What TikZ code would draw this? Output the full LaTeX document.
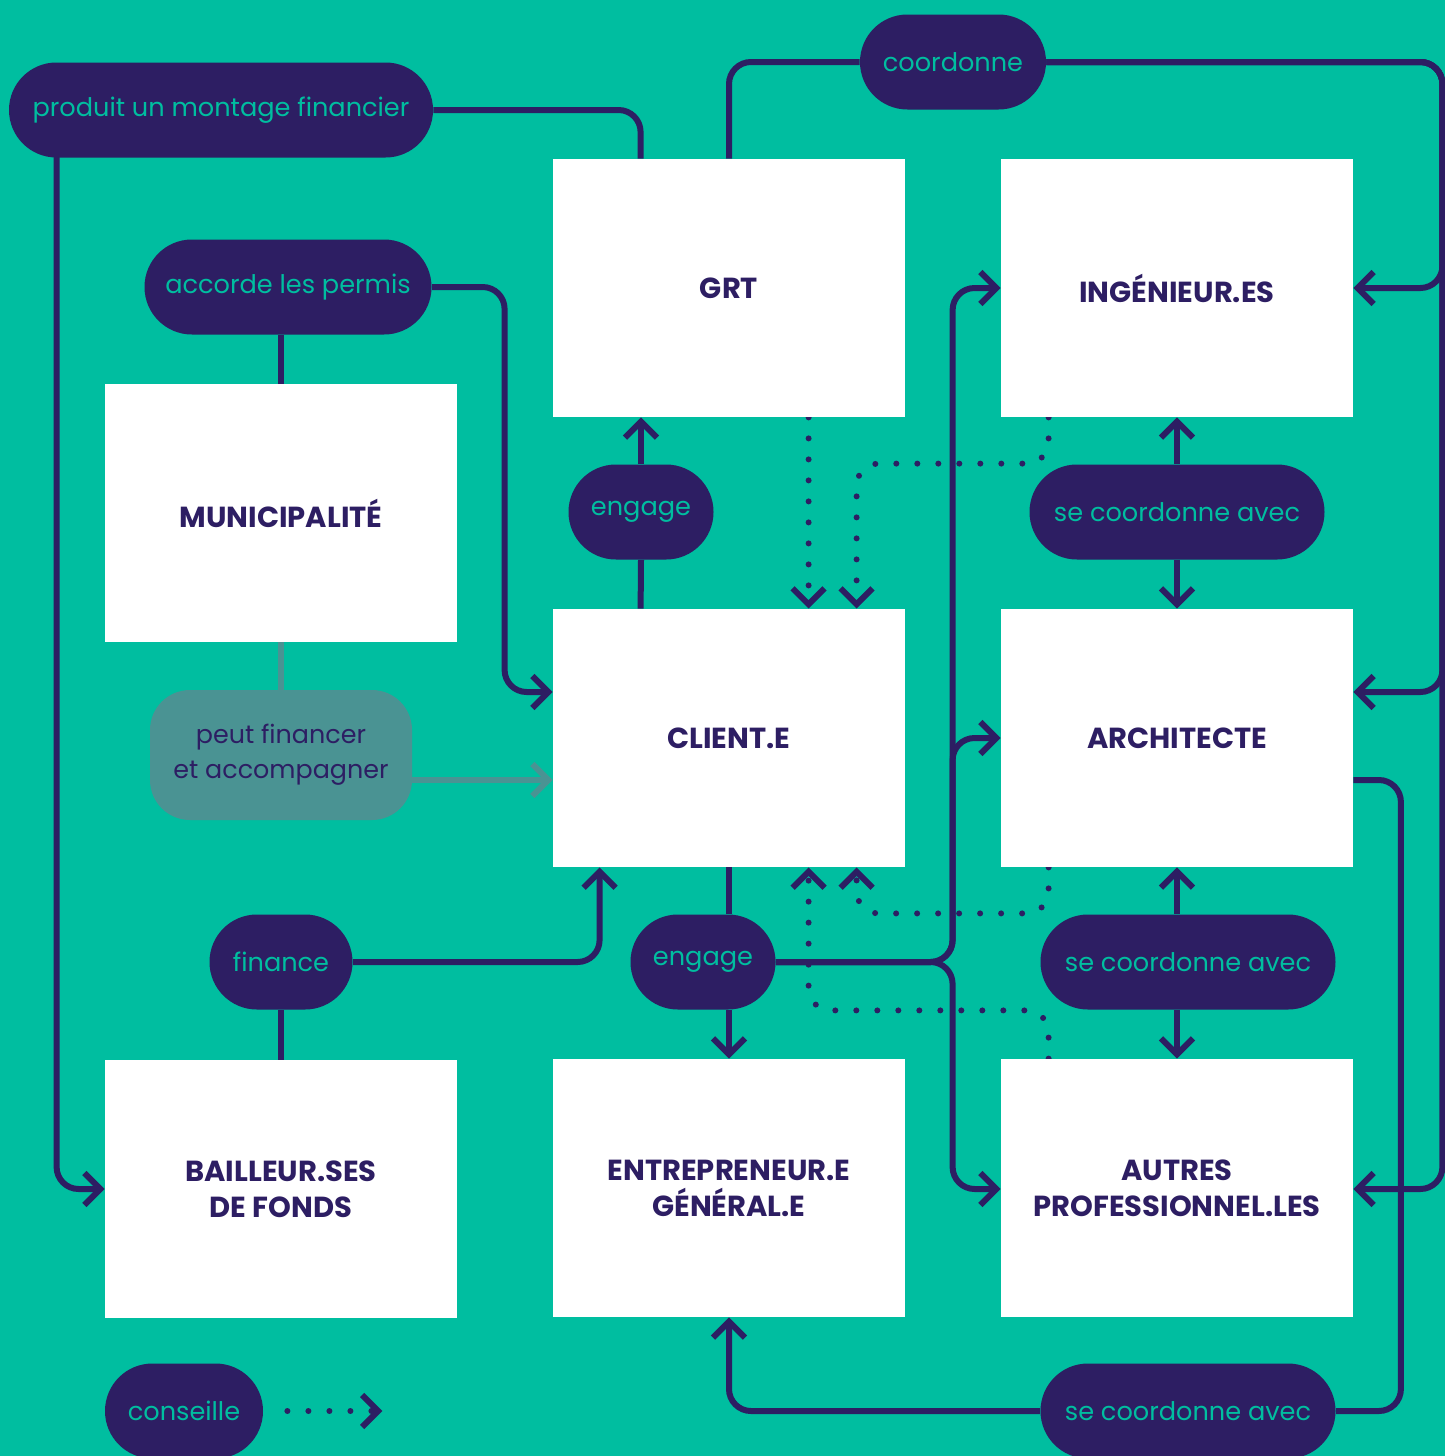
\documentclass[tikz,border=0pt]{standalone}
\usepackage{fontspec}
\setmainfont{Poppins}
\usetikzlibrary{arrows.meta,calc}
\definecolor{bgc}{HTML}{00BEA0}
\definecolor{purp}{HTML}{2D1E63}
\definecolor{grayc}{HTML}{4A9393}
\pgfdeclarelayer{back}
\pgfdeclarelayer{lines}
\pgfsetlayers{back,lines,main}
\tikzset{
  box/.style={fill=white, minimum width=176pt, minimum height=129pt, inner sep=0pt,
    text=purp, align=center, text depth=0pt, font=\bfseries\fontsize{14.5}{18}\selectfont},
  pill/.style={fill=purp, rounded corners=23.7pt, minimum height=47.5pt, inner xsep=0pt,
    text=bgc, font=\fontsize{12.8}{14}\selectfont},
  gpill/.style={fill=grayc, rounded corners=20pt, minimum height=65pt, minimum width=131pt,
    inner xsep=0pt, text=purp, align=center, font=\fontsize{12.7}{17.5}\selectfont},
  conn/.style={draw=purp, line width=3pt, rounded corners=11pt},
  gconn/.style={draw=grayc, line width=3pt},
  dotln/.style={draw=purp, line width=3pt, line cap=round, dash pattern=on 0pt off 10.5pt, rounded corners=11pt},
  >={Straight Barb[length=8pt,width=16pt,line cap=butt]}
}
\begin{document}
\begin{tikzpicture}[x=0.5pt,y=-0.5pt]
\begin{pgfonlayer}{back}
\fill[bgc] (0,0) rectangle (1445,1456);
\end{pgfonlayer}
\useasboundingbox (0,0) rectangle (1445,1456);
% boxes
\node[box] (grt) at (729,288) {GRT};
\node[box] (ing) at (1177,288) {INGÉNIEUR.ES};
\node[box] (mun) at (281,513) {MUNICIPALITÉ};
\node[box] (cli) at (729,738) {CLIENT.E};
\node[box] (arc) at (1177,738) {ARCHITECTE};
\node[box] (bai) at (281,1189) {BAILLEUR.SES\\DE FONDS};
\node[box] (ent) at (729,1188) {ENTREPRENEUR.E\\GÉNÉRAL.E};
\node[box] (aut) at (1177,1188) {AUTRES\\PROFESSIONNEL.LES};
% pills
\node[pill, minimum width=212pt] (pMontage) at (221,110) {produit un montage financier};
\node[pill, minimum width=143.5pt] (pPermis) at (288,287) {accorde les permis};
\node[pill, minimum width=93pt] (pCoord) at (953,62) {coordonne};
\node[pill, minimum width=72.5pt] (pEngT) at (641,512) {engage};
\node[pill, minimum width=147.5pt] (pCoA) at (1177,512) {se coordonne avec};
\node[gpill] (pPeut) at (281,755) {peut financer\\et accompagner};
\node[pill, minimum width=71.5pt] (pFin) at (281,962) {finance};
\node[pill, minimum width=72.5pt] (pEngB) at (703,962) {engage};
\node[pill, minimum width=147.5pt] (pCoB) at (1188,962) {se coordonne avec};
\node[pill, minimum width=79pt] (pCons) at (184,1411) {conseille};
\node[pill, minimum width=147.5pt] (pCoC) at (1188,1411) {se coordonne avec};

\begin{pgfonlayer}{lines}
% produit un montage financier
\draw[conn] (pMontage.east) -| ($(grt.north west)+(88,0)$);
\draw[conn,->] ($(pMontage.south west)+(48,-2)$) |- (bai.west);
% coordonne
\draw[conn] (grt.north) |- (pCoord.west);
\draw[conn,->] (pCoord.east) -| ($(ing.east)+(89,0)$) -- (ing.east);
\draw[conn,->] (pCoord.east) -| ($(arc.east)+(89,-46)$) -- ($(arc.east)+(0,-46)$);
\draw[conn,->] (pCoord.east) -| ($(aut.east)+(89,1)$) -- ($(aut.east)+(0,1)$);
% accorde les permis
\draw[conn] (pPermis.south -| mun.north) -- (mun.north);
\draw[conn,->] (pPermis.east) -| ($(cli.west)+(-48,-46)$) -- ($(cli.west)+(0,-46)$);
% engage (top)
\draw[conn] ($(cli.north west)+(88,0)$) -- (pEngT.south);
\draw[conn,->] (pEngT.north) -- (pEngT.north |- grt.south);
% peut financer
\draw[gconn] (mun.south) -- (pPeut.north);
\draw[gconn,->] ($(pPeut.east)+(0,25)$) -- ($(cli.west)+(0,42)$);
% finance
\draw[conn] (pFin.south) -- (bai.north);
\draw[conn,->] (pFin.east) -| ($(cli.south west)+(47,0)$);
% engage (bottom)
\draw[conn] (cli.south) -- (cli.south |- pEngB.north);
\draw[conn,->] (cli.south |- pEngB.south) -- (ent.north);
\draw[conn,->] (pEngB.east) -| ($(ing.west)+(-48,0)$) -- (ing.west);
\draw[conn,->] (pEngB.east) -| ($(arc.west)+(-48,0)$) -- (arc.west);
\draw[conn,->] (pEngB.east) -| ($(aut.west)+(-48,1)$) -- ($(aut.west)+(0,1)$);
% se coordonne avec (top / middle)
\draw[conn,->] (pCoA.north) -- (pCoA.north |- ing.south);
\draw[conn,->] (pCoA.south) -- (pCoA.south |- arc.north);
\draw[conn,->] (arc.south |- pCoB.north) -- (arc.south);
\draw[conn,->] (arc.south |- pCoB.south) -- (aut.north);
% architecte -> se coordonne avec (bottom) -> entrepreneur
\draw[conn] ($(arc.east)+(0,42)$) -| ($(pCoC.east)+(65,0)$) -- (pCoC.east);
\draw[conn,->] (pCoC.west) -| (ent.south);
% conseille (dotted)
\draw[dotln,->] ($(grt.south west)+(256,0)$) -- ($(cli.north west)+(256,0)$);
\draw[dotln,->] ($(ing.south west)+(48,0)$) |- ($(cli.north west)+(304,-145)$) -- ($(cli.north west)+(304,0)$);
\draw[dotln,->] ($(arc.south west)+(48,0)$) |- ($(cli.south west)+(304,46)$) -- ($(cli.south west)+(304,0)$);
\draw[dotln,->] ($(aut.north west)+(48,0)$) |- ($(cli.south west)+(256,143)$) -- ($(cli.south west)+(256,0)$);
\draw[dotln,->] ($(pCons.east)+(24,0)$) -- ($(pCons.east)+(119,0)$);
\end{pgfonlayer}
\end{tikzpicture}
\end{document}
